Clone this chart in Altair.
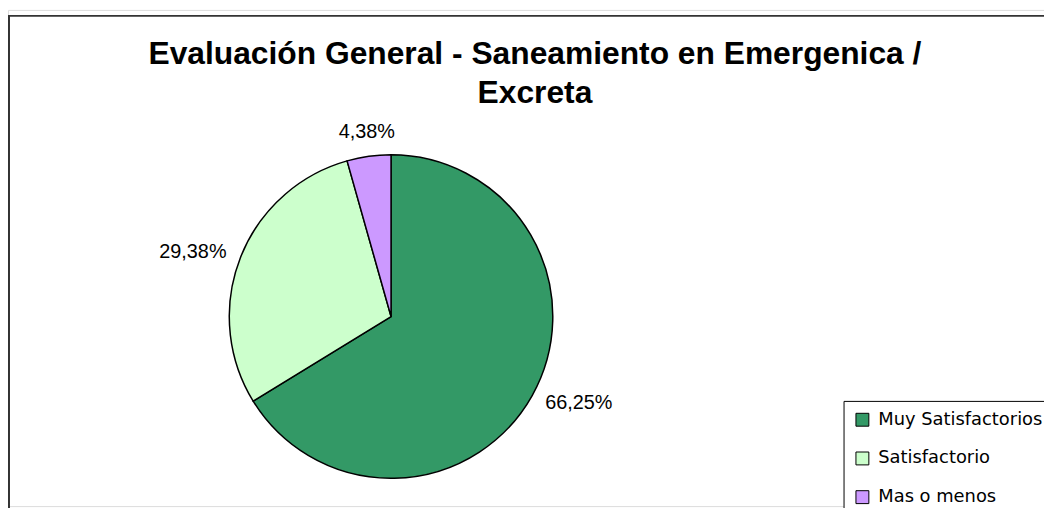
import altair as alt
import pandas as pd

categories = ["Muy Satisfactorios", "Satisfactorio", "Mas o menos"]
values = [66.25, 29.38, 4.38]
labels = ["66,25%", "29,38%", "4,38%"]
colors = ["#339966", "#CCFFCC", "#CC99FF"]
order_idx = [0, 1, 2]

df = pd.DataFrame({"cat": categories, "val": values, "lab": labels, "idx": order_idx})
total = float(sum(values))

FONT = "Liberation Sans"
CX, CY = 386, 309

color_scale = alt.Scale(domain=categories, range=colors)
theta_scale = alt.Scale(domain=[0, total])

deco = alt.Chart(pd.DataFrame({"a": [0]}))
frame_left = deco.mark_rule(color="#333333", strokeWidth=2).encode(
    x=alt.value(1), y=alt.value(5), y2=alt.value(900)
)
frame_top = deco.mark_rule(color="#333333", strokeWidth=2).encode(
    x=alt.value(0), x2=alt.value(1400), y=alt.value(6)
)

base = (
    alt.Chart(df)
    .transform_stack(stack="val", as_=["v0", "v1"], groupby=[], sort=[alt.SortField("idx")])
    .transform_calculate(mid="(datum.v0 + datum.v1) / 2", frac=f"(datum.v0 + datum.v1) / 2 / {total}")
)

pie = base.mark_arc(outerRadius=163, stroke="black", strokeWidth=1.5).encode(
    theta=alt.Theta("v0:Q", scale=theta_scale),
    theta2="v1:Q",
    color=alt.Color(
        "cat:N",
        scale=color_scale,
        sort=categories,
        legend=alt.Legend(
            title=None,
            orient="none",
            legendX=842,
            legendY=394,
            symbolType="square",
            symbolSize=169,
            symbolStrokeColor="black",
            symbolStrokeWidth=1,
            labelFont="DejaVu Sans",
            labelFontSize=18,
            labelColor="black",
            labelOffset=7,
            rowPadding=21,
            padding=10,
            strokeColor="black",
            fillColor="white",
            labelLimit=400,
        ),
    ),
    x=alt.value(CX),
    y=alt.value(CY),
)


def label_layer(cond, **style):
    return (
        base.transform_filter(cond)
        .mark_text(font=FONT, fontSize=20, color="black", **style)
        .encode(
            theta=alt.Theta("mid:Q", scale=theta_scale),
            text="lab:N",
            radius=alt.value(178),
            x=alt.value(CX),
            y=alt.value(CY),
        )
    )


right_labels = label_layer("datum.frac > 0.03 && datum.frac < 0.5", align="left", baseline="middle")
left_labels = label_layer("datum.frac >= 0.5 && datum.frac < 0.97", align="right", baseline="middle")
top_labels = label_layer("datum.frac >= 0.97 || datum.frac <= 0.03", align="center", baseline="bottom")

chart = alt.layer(frame_left, frame_top, pie, right_labels, left_labels, top_labels).properties(
    width=1044,
    height=500,
    autosize=alt.AutoSizeParams(type="none"),
    padding={"left": 0, "top": 0, "right": 0, "bottom": 0},
    title=alt.TitleParams(
        text=["Evaluación General - Saneamiento en Emergenica /", "Excreta"],
        font=FONT,
        fontSize=32,
        fontWeight="bold",
        color="black",
        lineHeight=40,
        anchor="middle",
        dx=9,
        dy=105,
    ),
).configure_view(stroke=None).configure(background="white")

chart.save("out.html", embed_options={"renderer": "svg", "actions": False})
